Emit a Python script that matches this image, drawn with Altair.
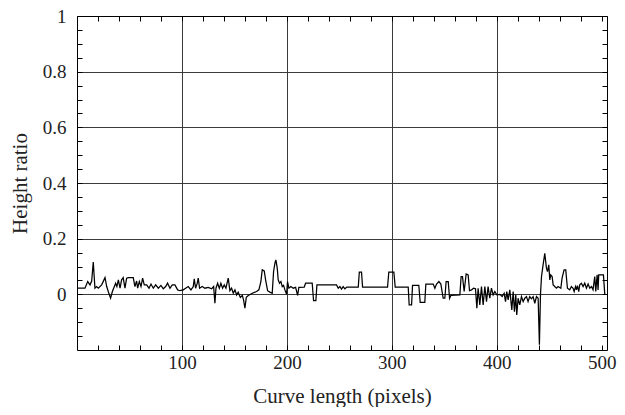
import altair as alt
import pandas as pd

# Curve length (pixels) and height ratio
x_vals = [1, 7.6, 10.2, 12.4, 14, 15.5, 17.1, 18.7, 20.3, 23.5, 26.7, 28.3, 29.8, 32, 33.7,
          35.6, 36.8, 38, 39.4, 41, 42.5, 44, 45.7, 47.3, 48.9, 51.4, 53.6, 55.2, 56.8, 57.8,
          59.4, 61, 62.5, 64.1, 66.4, 68.6, 70.5, 72.7, 75, 77.5, 80, 82.2, 84.5,
          86.3, 88.6, 90.8, 93.3, 95.9, 98.1, 101.3, 103.5, 106, 108.6, 110.8, 111.7, 113,
          114.6, 115.5, 116.8, 119.3, 121.9, 125, 128.3, 130.2, 131.4, 132.4, 134, 135.6,
          137.1, 138.7, 140.3, 141.9, 144.1, 145.7, 147.3, 148.9, 150.5, 152.1, 153.6, 155.6,
          157.5, 158.7, 160, 161.3, 163.2, 167, 171.1,
          173.3, 175.2, 176.5, 178.4, 179.7, 181.6, 183.8, 186, 187.3, 188.6, 189.5, 190.8,
          191.7, 193, 194.3, 195.6, 196.8, 198.1, 199.7, 200.6, 201.9, 203.8, 206, 208.3,
          210.2, 211.4, 216.5, 217.8, 224.1, 225.4, 227.6, 228.6, 247.3, 248.9, 250.5, 252,
          253.6, 255.2,
          257.1, 268, 269, 271.1, 272.1, 295.9, 297.1, 301.9, 303.2, 315.6, 316.5, 318.8,
          319.7, 325.7, 327, 331.4, 332.4, 339.4,
          341, 342.6, 344.8, 346.7, 348.9, 350.5, 351.7, 353.7, 355, 356.2, 364.8, 366, 367.3,
          368.9, 370.8, 372.7, 374, 375.9, 377.8, 379.7, 381, 382.2, 383.8, 385.4, 387, 388.6,
          390.2, 391.7, 393.3, 394.9, 396.5, 398.1, 400, 402.9, 405.1, 407, 408.3, 409.5,
          410.8, 412.4, 414.3, 415.6, 416.8, 418.1, 419, 420.3, 421.9, 423.5, 425.1, 426.7,
          428.3, 429.8, 431.4, 433, 434.6, 436.2, 437.8, 439.4, 440.6, 441.6, 442.6, 444.1,
          445.7, 447.3, 448.3, 449.5, 450.5, 451.4, 452.7, 453.7, 455.2, 456.8, 458.4, 461,
          462.2, 464.1, 465.7, 466.7, 467.3, 469.5, 471.1, 472.7, 473.7, 475, 475.9, 476.8,
          478.1, 479, 480.6, 482.2, 483.8, 485.4, 487, 488.6, 490.2, 491.7, 493.3, 494.3,
          495.6, 496.5, 497.1, 501.6, 502.9]
y_vals = [0.022, 0.022, 0.046, 0.034, 0.048, 0.116, 0.022, 0.028, 0.022, 0.034, 0.06, 0.028, 0.01, -0.014, 0.01,
          0.028, 0.04, 0.028, 0.052, 0.022, 0.052, 0.06, 0.022, 0.058, 0.06, 0.06, 0.06, 0.028, 0.048, 0.022,
          0.046, 0.028, 0.058, 0.034, 0.034, 0.022, 0.037, 0.022, 0.034, 0.022, 0.032, 0.02, 0.028,
          0.04, 0.022, 0.034, 0.034, 0.016, 0.013, 0.016, 0.022, 0.028, 0.016, 0.028, 0.056, 0.022,
          0.04, 0.058, 0.022, 0.028, 0.022, 0.025, 0.02, 0.028, -0.032, 0.022, 0.04, 0.022,
          0.04, 0.022, 0.034, 0.022, 0.058, 0.013, 0.022, 0.004, 0.016, -0.002, 0.008, -0.011,
          -0.004, -0.02, -0.05, -0.011, -0.004, 0.004, 0.01,
          0.016, 0.046, 0.088, 0.084, 0.052, 0.013, 0.008, 0.004, 0.082, 0.112, 0.124, 0.094,
          0.052, 0.04, 0.046, 0.028, 0.032, 0.016, 0.0, 0.046, 0.022, 0.028, 0.022, 0.025,
          -0.004, 0.025, 0.026, 0.04, 0.04, -0.023, -0.023, 0.034, 0.034, 0.022, 0.028, 0.019,
          0.028, 0.02,
          0.026, 0.026, 0.08, 0.08, 0.026, 0.026, 0.08, 0.08, 0.026, 0.026, -0.038, -0.038,
          0.032, 0.032, -0.029, -0.029, 0.037, 0.037,
          0.022, 0.037, 0.046, 0.037, -0.014, -0.014, 0.046, 0.046, -0.014, -0.004, -0.002, 0.064, 0.064,
          0.01, 0.073, 0.07, 0.013, 0.016, 0.022, 0.02, -0.05, 0.022, -0.038, 0.028, -0.038, 0.028,
          -0.026, 0.028, -0.014, 0.022, -0.002, 0.01, -0.002, 0.0, -0.008, 0.004, -0.026, 0.01,
          -0.02, 0.016, -0.056, 0.01, -0.062, -0.002, -0.074, -0.014, -0.038, -0.008, -0.026, -0.014,
          -0.008, -0.026, -0.008, -0.016, -0.008, -0.032, -0.008, -0.014, -0.181, -0.002, 0.064, 0.106,
          0.147, 0.094, 0.082, 0.106, 0.052, 0.07, 0.064, 0.034, 0.028, 0.022, 0.028, 0.022,
          0.058, 0.088, 0.088, 0.046, 0.022, 0.016, 0.028, 0.022, 0.01, 0.028, 0.016, 0.031,
          0.01, 0.034, 0.04, 0.028, 0.04, 0.022, 0.037, 0.022, 0.028, 0.016, 0.064, 0.01,
          0.07, 0.016, 0.07, 0.07, 0.0]

x_label_ticks = [100, 200, 300, 400, 500]
x_grid_ticks = [100, 200, 300, 400]
x_minor_ticks = [20, 40, 60, 80, 100, 120, 140, 160, 180, 200, 220, 240, 260, 280, 300,
                 320, 340, 360, 380, 400, 420, 440, 460, 480, 500]
y_label_ticks = [0, 0.2, 0.4, 0.6, 0.8, 1]
y_minor_ticks = [-0.15, -0.1, -0.05, 0, 0.05, 0.1, 0.15, 0.2, 0.25, 0.3, 0.35, 0.4, 0.45,
                 0.5, 0.55, 0.6, 0.65, 0.7, 0.75, 0.8, 0.85, 0.9, 0.95, 1]

df = pd.DataFrame({"x": x_vals, "y": y_vals})

W, H = 530, 334
FONT = "Liberation Serif, DejaVu Serif, serif"
GRID = "#3a3a3a"
TXT = "#222"

xs = alt.Scale(domain=[0, 505], nice=False, zero=False)
ys = alt.Scale(domain=[-0.2, 1], nice=False, zero=False)

base = alt.Chart(df)

line = base.mark_line(color="black", strokeWidth=1.25).encode(
    x=alt.X("x:Q", scale=xs, axis=alt.Axis(
        orient="bottom", values=x_label_ticks, format="d", title="Curve length (pixels)",
        grid=False, ticks=False, tickSize=0, domain=True, domainColor="black", domainWidth=1,
        labelFont=FONT, labelFontSize=19, labelColor=TXT, labelPadding=3,
        titleFont=FONT, titleFontSize=21, titleFontWeight="normal", titleColor=TXT,
        titleX=W / 2, titleY=56, titleAlign="center", titleBaseline="bottom")),
    y=alt.Y("y:Q", scale=ys, axis=alt.Axis(
        orient="left", values=y_label_ticks, format="~g", title="Height ratio",
        grid=True, gridColor=GRID, gridWidth=1, ticks=False, tickSize=0,
        domain=True, domainColor="black", domainWidth=1,
        labelFont=FONT, labelFontSize=19, labelColor=TXT, labelPadding=11,
        titleFont=FONT, titleFontSize=21, titleFontWeight="normal", titleColor=TXT,
        titleX=-57, titleY=H / 2, titleAngle=270, titleAlign="center",
        titleBaseline="middle")),
)

frame = base.mark_line(opacity=0).encode(
    x=alt.X("x:Q", scale=xs, axis=alt.Axis(
        orient="top", values=x_grid_ticks, grid=True, gridColor=GRID, gridWidth=1,
        ticks=False, tickSize=0, labels=False, domain=True, domainColor="black", title=None)),
    y=alt.Y("y:Q", scale=ys, axis=alt.Axis(
        orient="right", values=y_label_ticks, grid=False, ticks=False, tickSize=0,
        labels=False, domain=True, domainColor="black", title=None)),
)

ticks_a = base.mark_line(opacity=0).encode(
    x=alt.X("x:Q", scale=xs, axis=alt.Axis(
        orient="top", offset=-H, values=x_minor_ticks, grid=False, ticks=True, tickSize=5,
        tickColor="black", labels=False, domain=False, title=None)),
    y=alt.Y("y:Q", scale=ys, axis=alt.Axis(
        orient="right", offset=-W, values=y_minor_ticks, grid=False, ticks=True, tickSize=5,
        tickColor="black", labels=False, domain=False, title=None)),
)

ticks_b = base.mark_line(opacity=0).encode(
    x=alt.X("x:Q", scale=xs, axis=alt.Axis(
        orient="bottom", offset=-H, values=x_minor_ticks, grid=False, ticks=True, tickSize=5,
        tickColor="black", labels=False, domain=False, title=None)),
    y=alt.Y("y:Q", scale=ys, axis=alt.Axis(
        orient="left", offset=-W, values=y_minor_ticks, grid=False, ticks=True, tickSize=5,
        tickColor="black", labels=False, domain=False, title=None)),
)

chart = alt.layer(frame, ticks_a, ticks_b, line).resolve_axis(
    x="independent", y="independent"
).properties(
    width=W, height=H,
    padding={"left": 69, "top": 8, "right": 10, "bottom": 57},
    autosize=alt.AutoSizeParams(type="none"),
    background="white",
).configure_view(strokeWidth=0)

chart.save("out.html", embed_options={"renderer": "svg", "actions": False})
